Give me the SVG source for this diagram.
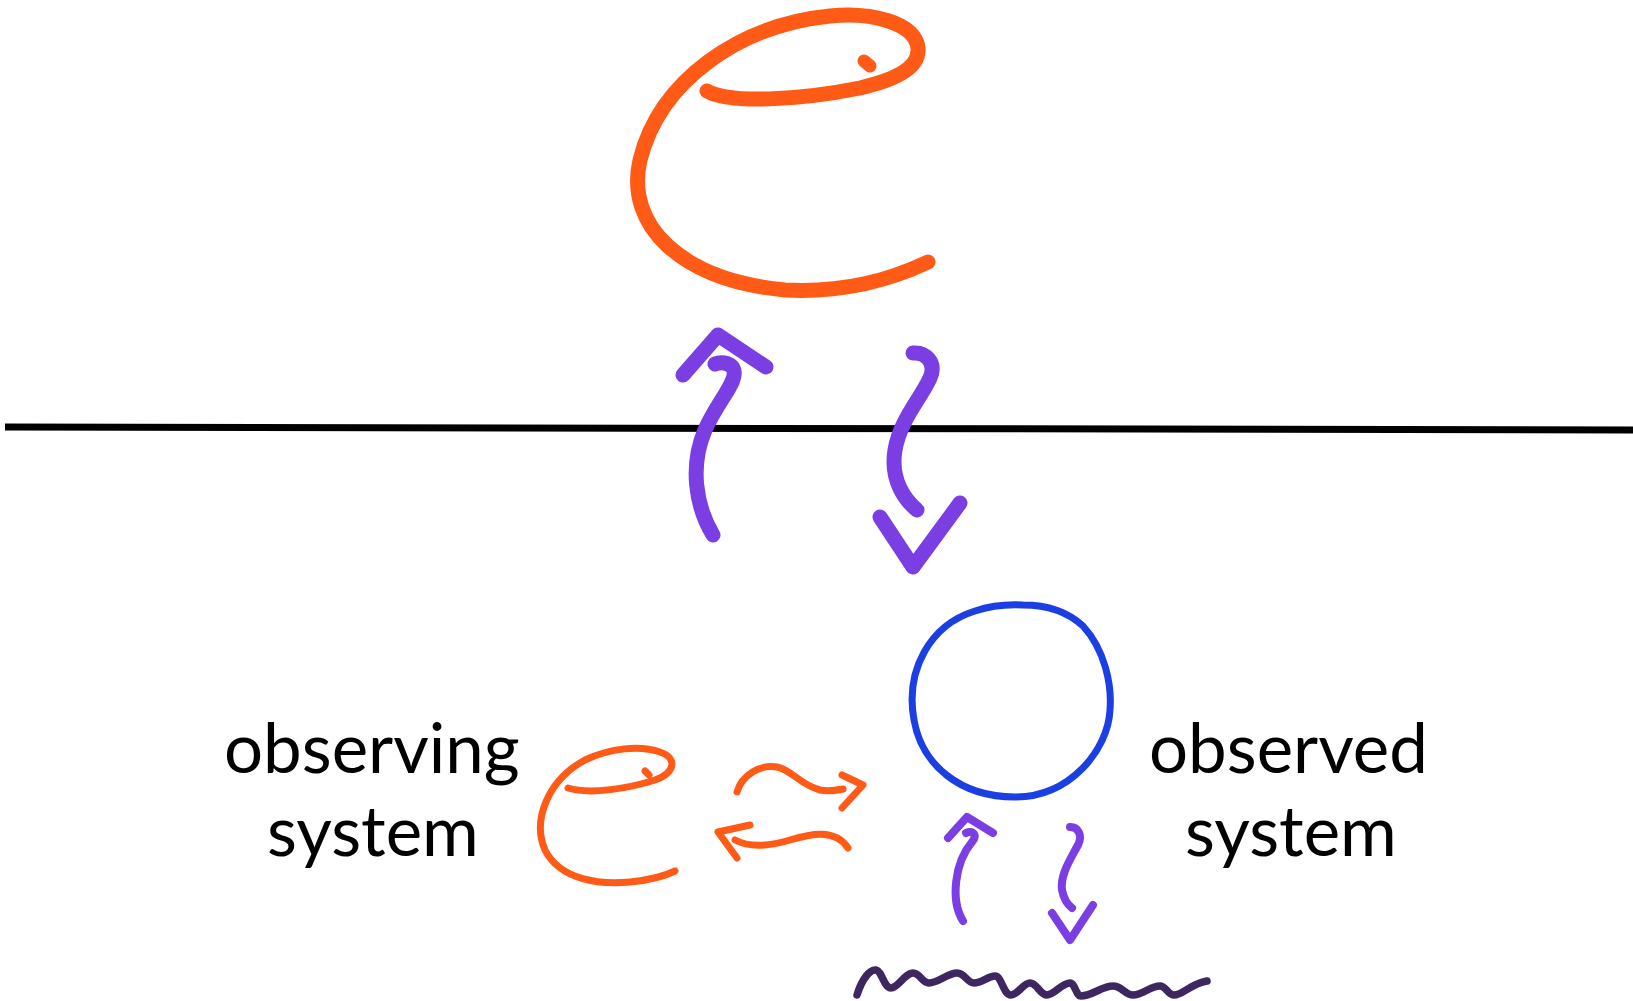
<svg xmlns="http://www.w3.org/2000/svg" width="1633" height="1001" viewBox="0 0 1633 1001">
  <style>
    .stroke { fill: none; stroke-linecap: round; stroke-linejoin: round; }
    .orange { stroke: #ff5a16; }
    .violet { stroke: #7a3ee2; }
    .blue { stroke: #1c3fe4; }
    .ink { stroke: #3e2761; }
    .label { font-family: "Lato", "Liberation Sans", sans-serif; font-size: 69px; fill: #000; }
  </style>
  <rect width="1633" height="1001" fill="#ffffff"/>

  <!-- dividing line between the two levels -->
  <g id="divider">
    <line x1="5" y1="427" x2="1633" y2="430" stroke="#000" stroke-width="7"/>
  </g>

  <!-- large observer glyph, upper level -->
  <g id="observer-large" class="stroke orange" stroke-width="15">
    <path d="M 707,91 C 730,104 800,100 860,88 C 895,80 920,68 918,48 C 915,22 870,12 830,16 C 740,25 660,80 640,160 C 625,225 680,280 785,290 C 845,293 890,280 928,262"/>
    <path d="M 864,61 L 870,66" stroke-width="13"/>
  </g>

  <!-- small observer glyph, lower level -->
  <g id="observing-system" class="stroke orange" stroke-width="7">
    <path d="M 568,788 C 590,795 630,788 655,780 C 675,773 678,758 660,752 C 640,745 610,748 585,760 C 548,780 532,820 545,850 C 560,880 600,885 630,882 C 650,880 665,876 675,871"/>
    <path d="M 645,771 L 649,775"/>
  </g>

  <!-- observed system -->
  <g id="observed-system" class="stroke blue" stroke-width="7">
    <path d="M 1023,605 C 1050,605 1070,614 1083,626 C 1105,650 1112,685 1110,710 C 1108,750 1070,797 1015,797 C 960,797 922,765 914,720 C 905,670 930,625 975,611 C 990,606 1005,604 1023,605 Z"/>
  </g>

  <!-- environment -->
  <g id="environment" class="stroke ink" stroke-width="7.5">
    <path d="M 857,995 C 862,979 870,969 876,970 C 882,971 884,988 891,988 C 898,988 905,973 913,973 C 920,973 922,983 929,983 C 938,983 948,973 957,973 C 965,973 967,983 974,983 C 982,983 988,976 995,976 C 1002,976 1003,995 1011,995 C 1018,995 1023,983 1030,983 C 1037,983 1040,995 1047,995 C 1054,995 1062,983 1070,983 C 1075,983 1076,996 1081,996 C 1092,996 1102,986 1113,986 C 1122,986 1125,995 1133,995 C 1143,995 1150,986 1160,986 C 1166,986 1168,995 1174,995 C 1183,995 1190,984 1207,981"/>
  </g>

  <!-- labels -->
  <g id="label-observing">
    <text class="label" x="224" y="773">observing</text>
    <text class="label" x="267" y="856">system</text>
  </g>
  <g id="label-observed">
    <text class="label" x="1149" y="773">observed</text>
    <text class="label" x="1185" y="856">system</text>
  </g>

  <!-- connectors -->
  <g id="connectors" class="stroke">
    <!-- upward, across the divider -->
    <g class="violet" stroke-width="15">
      <path d="M 713,535 C 695,505 690,465 705,430 C 718,400 740,380 733,368 C 729,362 720,362 715,364"/>
      <path d="M 683,375 L 718,335 L 766,367"/>
    </g>
    <!-- downward, across the divider -->
    <g class="violet" stroke-width="15">
      <path d="M 913,353 C 925,352 937,362 930,378 C 920,400 900,420 895,450 C 890,480 905,500 917,510"/>
      <path d="M 880,517 L 913,567 L 960,503"/>
    </g>
    <!-- observing to observed -->
    <g class="orange" stroke-width="7">
      <path d="M 737,792 C 742,775 760,764 777,767 C 792,770 800,785 820,790 C 830,792 838,790 843,789"/>
      <path d="M 842,775 L 863,785 L 842,808"/>
    </g>
    <!-- observed to observing -->
    <g class="orange" stroke-width="7">
      <path d="M 735,840 C 750,848 770,846 790,840 C 810,834 835,828 848,848"/>
      <path d="M 750,825 L 718,832 L 737,858"/>
    </g>
    <!-- environment to observed -->
    <g class="violet" stroke-width="8">
      <path d="M 963,921 C 950,900 955,862 972,842 C 978,835 973,830 966,833"/>
      <path d="M 948,838 L 967,817 L 993,833"/>
    </g>
    <!-- observed to environment -->
    <g class="violet" stroke-width="8">
      <path d="M 1070,827 C 1078,827 1083,835 1078,845 C 1070,860 1060,875 1062,890 C 1064,900 1068,905 1072,908"/>
      <path d="M 1052,913 L 1070,940 L 1093,905"/>
    </g>
  </g>
</svg>
